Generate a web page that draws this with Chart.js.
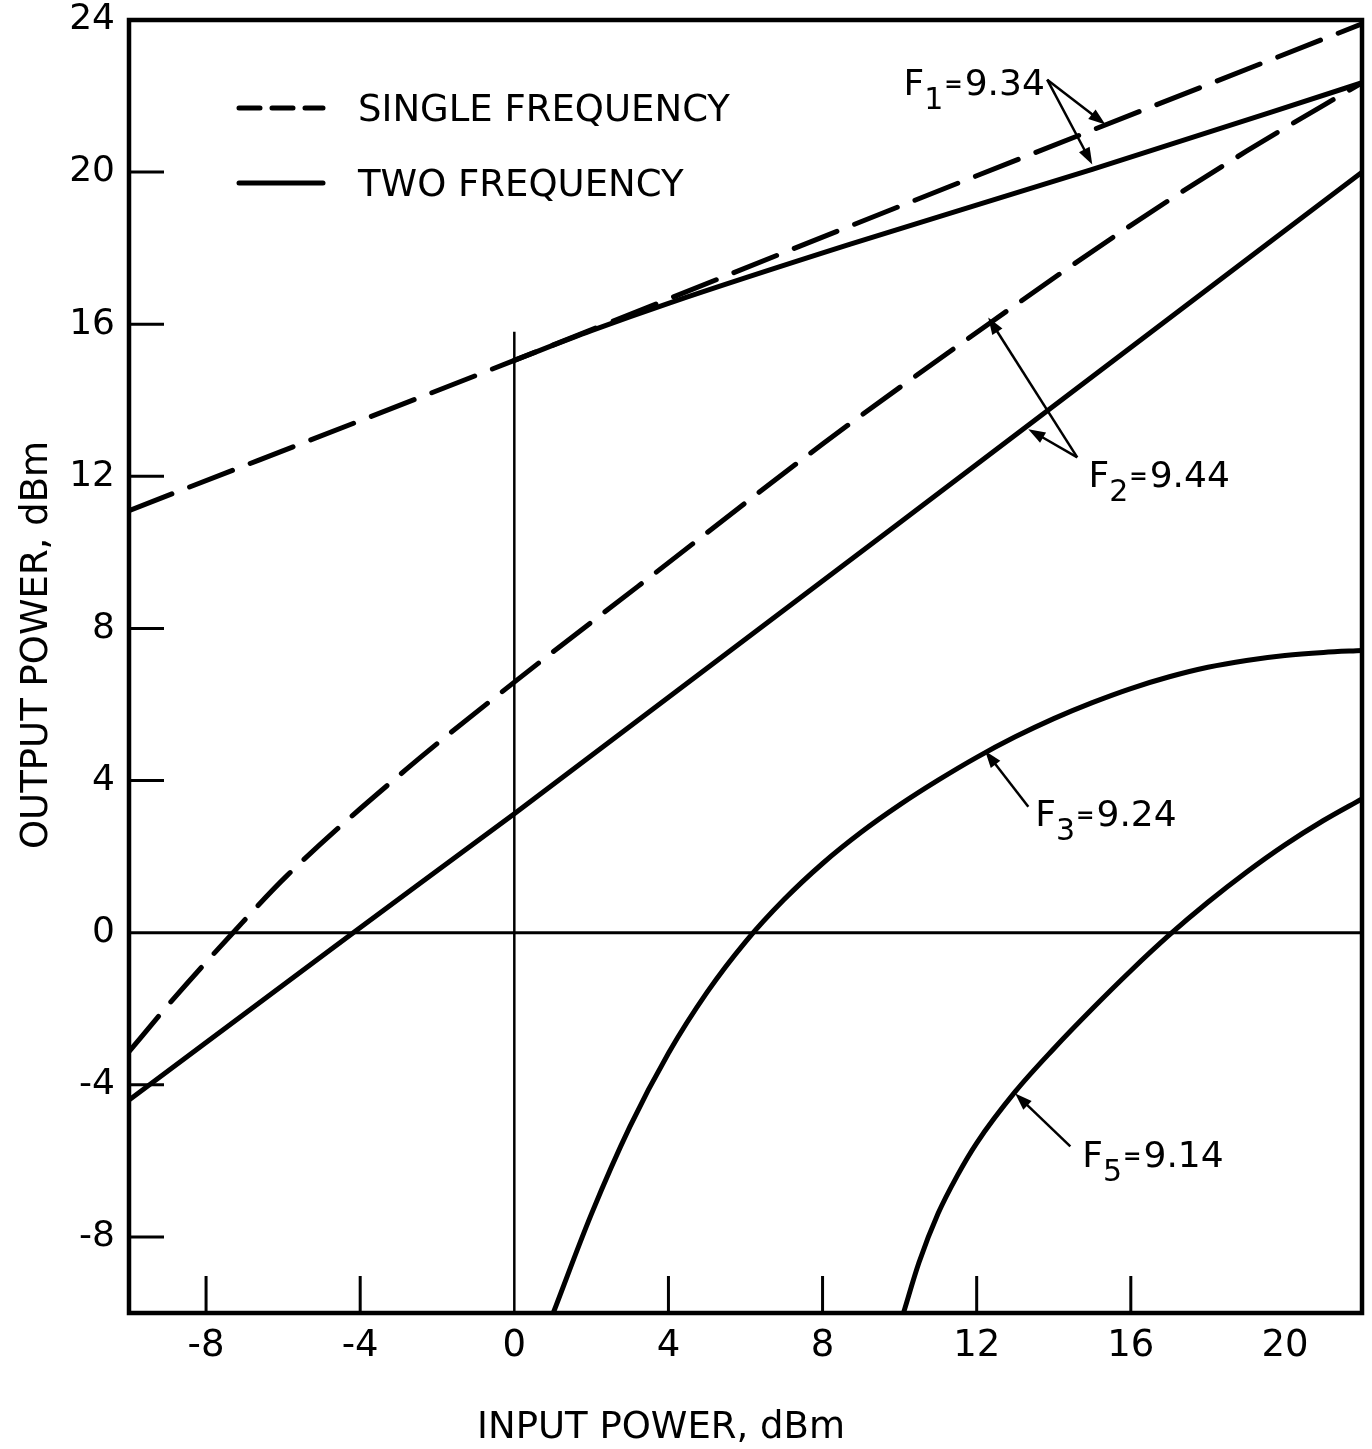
<!DOCTYPE html>
<html>
<head>
<meta charset="utf-8">
<script src="https://cdn.jsdelivr.net/npm/chart.js@4.4.0/dist/chart.umd.min.js"></script>
<style>
  html, body { margin: 0; padding: 0; background: #fff; }
  #wrap { width: 1372px; height: 1449px; }
</style>
</head>
<body>
<div id="wrap"><canvas id="chart" width="1372" height="1449"></canvas></div>
<script>
// axis ranges and ticks
var xMin = -10, xMax = 22;
var yMin = -10, yMax = 24;
var xTickLabels = [-8, -4, 0, 4, 8, 12, 16, 20];
var yTickLabels = [-8, -4, 0, 4, 8, 12, 16, 20, 24];
var xTickMarks = [-8, -4, 4, 8, 12, 16];
var yTickMarks = [-8, -4, 4, 8, 12, 16, 20];

// curves (input power dBm -> output power dBm)
var f1SingleX = [-10, 0, 10, 22];
var f1SingleY = [11.1, 15.05, 19.1, 23.9];

var f1TwoX = [0, 2, 4, 8.7, 15, 22];
var f1TwoY = [15.05, 15.83, 16.55, 18.1, 20.07, 22.35];

var f2SingleX = [-10, -9, -7.3, -5.9, -2.8, 0, 3.2, 8, 12.3, 16, 19, 22];
var f2SingleY = [-3.13, -1.92, 0, 1.5, 4.3, 6.59, 9.1, 12.85, 16.0, 18.6, 20.55, 22.35];

var f2TwoX = [-10, -4.18, 0, 13.8, 22];
var f2TwoY = [-4.4, 0, 3.13, 13.7, 20.0];

var f3TwoX = [1.01, 2, 3, 4, 5, 6, 7, 8, 9, 10, 11, 12, 13, 14, 15, 16, 17, 18, 19, 20, 21, 22];
var f3TwoY = [-10, -7.4, -5.1, -3.17, -1.57, -0.24, 0.87, 1.82, 2.64, 3.36, 4.01, 4.61, 5.15, 5.63, 6.05, 6.42, 6.73, 6.98, 7.16, 7.29, 7.37, 7.42];

var f5TwoX = [10.1, 10.5, 11, 11.5, 12, 13, 14, 15, 16, 17, 18, 19, 20, 21, 22];
var f5TwoY = [-10, -8.68, -7.38, -6.38, -5.53, -4.18, -3.05, -2.0, -1.0, -0.06, 0.8, 1.59, 2.31, 2.95, 3.52];

// frequency labels with arrows (data coordinates)
var freqSubs = ['1', '2', '3', '5'];
var freqValues = ['9.34', '9.44', '9.24', '9.14'];
var freqLabelAt = [[10.1, 22.04], [14.9, 11.72], [13.52, 2.81], [14.74, -6.17]];
var freqArrowFrom = [[13.83, 22.43], [14.61, 12.5], [13.34, 3.31], [14.43, -5.62]];
var freqArrowTips = [
  [[15.34, 21.25], [15.0, 20.2]],
  [[12.3, 16.18], [13.34, 13.24]],
  [[12.22, 4.78]],
  [[13.0, -4.23]]
];

var legendLabels = ['SINGLE FREQUENCY', 'TWO FREQUENCY'];
var xTitle = 'INPUT POWER, dBm';
var yTitle = 'OUTPUT POWER, dBm';

var FONT = "'DejaVu Sans', sans-serif";

function pairs(xs, ys) {
  return xs.map(function (x, i) { return { x: x, y: ys[i] }; });
}

function curve(xs, ys, dashed) {
  return {
    data: pairs(xs, ys),
    showLine: true,
    borderColor: '#000',
    borderWidth: 5,
    borderDash: dashed ? [46, 19] : [],
    borderCapStyle: 'round',
    borderJoinStyle: 'round',
    cubicInterpolationMode: 'monotone',
    pointRadius: 0,
    fill: false
  };
}

function axisLine(xs, ys, w) {
  return {
    data: pairs(xs, ys),
    showLine: true,
    borderColor: '#000',
    borderWidth: w,
    pointRadius: 0,
    fill: false
  };
}

var datasets = [
  curve(f1SingleX, f1SingleY, true),
  curve(f1TwoX, f1TwoY, false),
  curve(f2SingleX, f2SingleY, true),
  curve(f2TwoX, f2TwoY, false),
  curve(f3TwoX, f3TwoY, false),
  curve(f5TwoX, f5TwoY, false),
  axisLine([xMin, xMax], [0, 0], 3),
  axisLine([0, 0], [yMin, 15.8], 2.5)
];

function drawArrow(ctx, x0, y0, x1, y1) {
  var ang = Math.atan2(y1 - y0, x1 - x0);
  var len = 17, hw = 6;
  ctx.beginPath();
  ctx.moveTo(x0, y0);
  ctx.lineTo(x1 - Math.cos(ang) * len * 0.6, y1 - Math.sin(ang) * len * 0.6);
  ctx.stroke();
  ctx.beginPath();
  ctx.moveTo(x1, y1);
  ctx.lineTo(x1 - Math.cos(ang) * len - Math.sin(ang) * hw, y1 - Math.sin(ang) * len + Math.cos(ang) * hw);
  ctx.lineTo(x1 - Math.cos(ang) * len + Math.sin(ang) * hw, y1 - Math.sin(ang) * len - Math.cos(ang) * hw);
  ctx.closePath();
  ctx.fill();
}

var paperPlugin = {
  id: 'paper',
  afterDatasetsDraw: function (chart) {
    var ctx = chart.ctx, a = chart.chartArea;
    var xs = chart.scales.x, ys = chart.scales.y;
    ctx.save();
    ctx.strokeStyle = '#000';
    ctx.fillStyle = '#000';

    // frame
    ctx.lineWidth = 4.5;
    ctx.strokeRect(a.left, a.top, a.right - a.left, a.bottom - a.top);

    // tick marks point into the plot
    ctx.lineWidth = 3;
    ctx.beginPath();
    xTickMarks.forEach(function (v) {
      var px = xs.getPixelForValue(v);
      ctx.moveTo(px, a.bottom);
      ctx.lineTo(px, a.bottom - 37);
    });
    yTickMarks.forEach(function (v) {
      var py = ys.getPixelForValue(v);
      ctx.moveTo(a.left, py);
      ctx.lineTo(a.left + 35, py);
    });
    ctx.stroke();

    // legend
    ctx.lineWidth = 5;
    ctx.lineCap = 'round';
    ctx.setLineDash([21, 12]);
    ctx.beginPath();
    ctx.moveTo(a.left + 110, a.top + 88);
    ctx.lineTo(a.left + 194, a.top + 88);
    ctx.stroke();
    ctx.setLineDash([]);
    ctx.beginPath();
    ctx.moveTo(a.left + 110, a.top + 163);
    ctx.lineTo(a.left + 194, a.top + 163);
    ctx.stroke();
    ctx.font = '37px ' + FONT;
    ctx.textBaseline = 'alphabetic';
    ctx.textAlign = 'left';
    ctx.fillText(legendLabels[0], a.left + 229, a.top + 101);
    ctx.fillText(legendLabels[1], a.left + 229, a.top + 176);

    // frequency labels and arrows
    ctx.lineWidth = 2.5;
    ctx.lineCap = 'butt';
    for (var i = 0; i < freqSubs.length; i++) {
      var fx = xs.getPixelForValue(freqArrowFrom[i][0]);
      var fy = ys.getPixelForValue(freqArrowFrom[i][1]);
      freqArrowTips[i].forEach(function (t) {
        drawArrow(ctx, fx, fy, xs.getPixelForValue(t[0]), ys.getPixelForValue(t[1]));
      });
      var lx = xs.getPixelForValue(freqLabelAt[i][0]);
      var ly = ys.getPixelForValue(freqLabelAt[i][1]);
      ctx.font = '36px ' + FONT;
      ctx.fillText('F', lx, ly);
      lx += ctx.measureText('F').width;
      ctx.font = '30px ' + FONT;
      ctx.fillText(freqSubs[i], lx, ly + 14);
      lx += ctx.measureText(freqSubs[i]).width + 1;
      ctx.font = 'bold 22px ' + FONT;
      ctx.fillText('=', lx, ly - 4);
      lx += ctx.measureText('=').width + 2;
      ctx.font = '36px ' + FONT;
      ctx.fillText(freqValues[i], lx, ly);
    }
    ctx.restore();
  },
  afterDraw: function (chart) {
    var ctx = chart.ctx, a = chart.chartArea;
    ctx.save();
    ctx.fillStyle = '#000';
    ctx.font = '37px ' + FONT;
    ctx.textAlign = 'center';
    ctx.textBaseline = 'alphabetic';
    ctx.fillText(xTitle, a.left + 532, a.bottom + 125);
    ctx.translate(47, a.top + 625);
    ctx.rotate(-Math.PI / 2);
    ctx.fillText(yTitle, 0, 0);
    ctx.restore();
  }
};

function noPadding(s) {
  s.paddingTop = 0;
  s.paddingBottom = 0;
  s.paddingLeft = 0;
  s.paddingRight = 0;
}

var canvas = document.getElementById('chart');
var ctx = canvas.getContext('2d');

var myChart = new Chart(ctx, {
  type: 'scatter',
  data: { datasets: datasets },
  options: {
    responsive: false,
    animation: false,
    devicePixelRatio: 1,
    layout: { padding: { top: 20, right: 10, left: 0, bottom: 0 } },
    plugins: {
      legend: { display: false },
      tooltip: { enabled: false }
    },
    scales: {
      x: {
        type: 'linear',
        min: xMin,
        max: xMax,
        grid: { display: false, drawTicks: false },
        border: { display: false },
        ticks: {
          padding: 11,
          color: '#000',
          font: { family: FONT, size: 37 },
          callback: function (v) { return String(v); }
        },
        afterBuildTicks: function (s) { s.ticks = xTickLabels.map(function (v) { return { value: v }; }); },
        afterFit: function (s) { s.height = 136; noPadding(s); }
      },
      y: {
        type: 'linear',
        min: yMin,
        max: yMax,
        grid: { display: false, drawTicks: false },
        border: { display: false },
        ticks: {
          padding: 14,
          color: '#000',
          font: { family: FONT, size: 36 },
          callback: function (v) { return String(v); }
        },
        afterBuildTicks: function (s) { s.ticks = yTickLabels.map(function (v) { return { value: v }; }); },
        afterFit: function (s) { s.width = 129; noPadding(s); }
      }
    }
  },
  plugins: [paperPlugin]
});
</script>
</body>
</html>
